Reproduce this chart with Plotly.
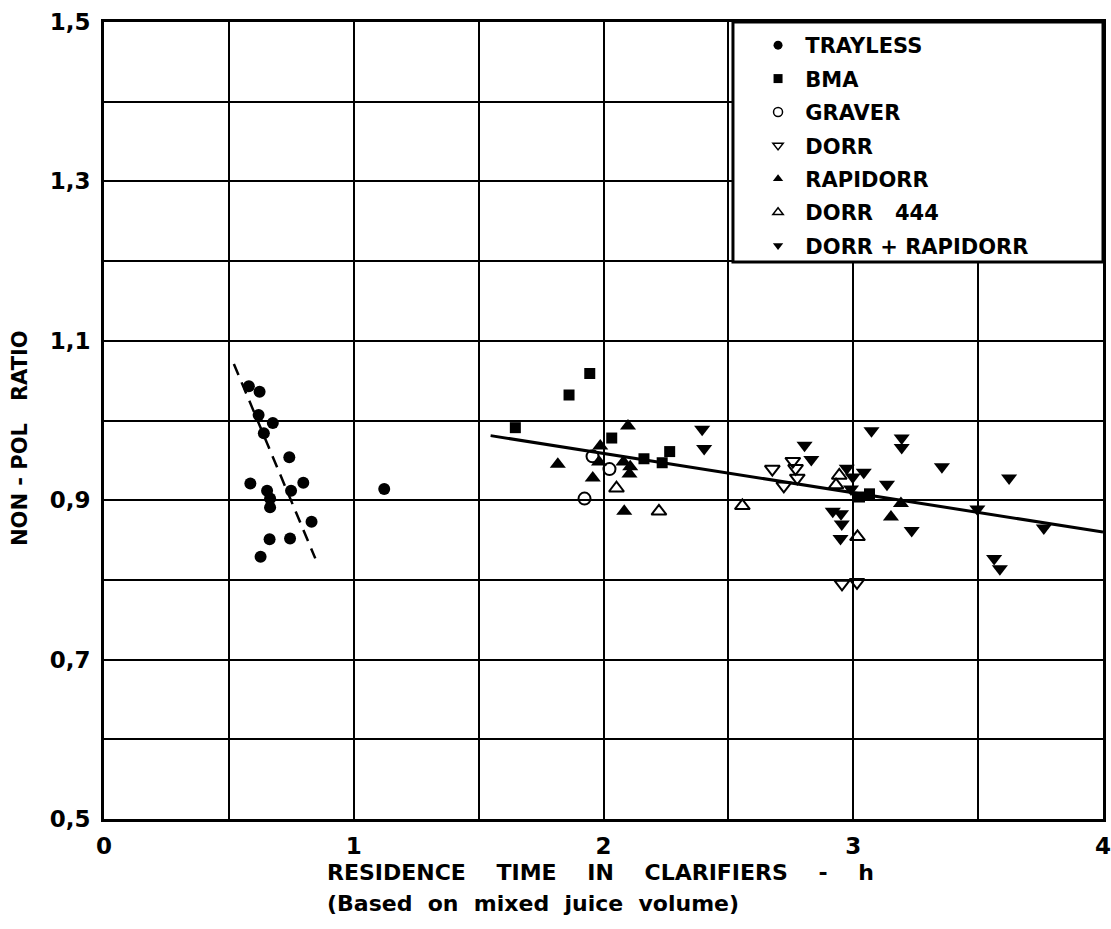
import plotly.graph_objects as go

# ---------------- data ----------------
trayless_x = [0.580, 0.623, 0.619, 0.676, 0.640, 0.742, 0.586, 0.798, 0.653, 0.749,
              0.665, 0.665, 0.831, 0.663, 0.745, 0.627, 1.122]
trayless_y = [1.043, 1.036, 1.007, 0.997, 0.984, 0.954, 0.921, 0.922, 0.912, 0.912,
              0.902, 0.891, 0.873, 0.851, 0.852, 0.829, 0.914]

bma_x = [1.945, 1.862, 1.647, 2.033, 2.265, 2.162, 2.235, 3.025, 3.065]
bma_y = [1.059, 1.032, 0.991, 0.978, 0.961, 0.952, 0.947, 0.904, 0.908]

graver_x = [1.956, 2.024, 1.924]
graver_y = [0.955, 0.939, 0.902]

dorr_x = [2.758, 2.769, 2.676, 2.776, 2.722, 2.955, 3.015]
dorr_y = [0.949, 0.940, 0.939, 0.928, 0.918, 0.795, 0.797]

rapidorr_x = [2.098, 1.987, 1.817, 1.982, 1.957, 2.080, 2.107, 2.104, 2.083, 3.151, 3.191]
rapidorr_y = [0.993, 0.968, 0.945, 0.948, 0.928, 0.948, 0.942, 0.933, 0.886, 0.879, 0.896]

dorr444_x = [2.052, 2.222, 2.944, 2.931, 2.556, 3.017]
dorr444_y = [0.915, 0.886, 0.931, 0.919, 0.893, 0.854]

dr_x = [2.395, 2.403, 3.073, 2.805, 2.832, 2.974, 2.998, 3.042, 3.135, 2.918, 2.951,
        2.954, 2.949, 2.991, 3.194, 3.194, 3.355, 3.624, 3.497, 3.234, 3.763, 3.564, 3.587]
dr_y = [0.989, 0.965, 0.987, 0.969, 0.951, 0.940, 0.929, 0.935, 0.920, 0.886, 0.883,
        0.870, 0.852, 0.914, 0.978, 0.966, 0.942, 0.928, 0.889, 0.862, 0.865, 0.827, 0.814]

# fitted lines
trayless_fit_x = [0.520, 0.846]
trayless_fit_y = [1.071, 0.827]
all_fit_x = [1.548, 4.0]
all_fit_y = [0.981, 0.860]

x_ticks = [0, 1, 2, 3, 4]
y_ticks = [0.5, 0.7, 0.9, 1.1, 1.3, 1.5]

FONT = "DejaVu Sans"
BLACK = "black"
NB = "\u00a0"

series = [
    ("TRAYLESS", trayless_x, trayless_y, "circle", 12),
    ("BMA", bma_x, bma_y, "square", 11),
    ("GRAVER", graver_x, graver_y, "circle-open", 12),
    ("DORR", dorr_x, dorr_y, "triangle-down-open", 13),
    ("RAPIDORR", rapidorr_x, rapidorr_y, "triangle-up", 14),
    ("DORR" + NB * 3 + "444", dorr444_x, dorr444_y, "triangle-up-open", 13),
    ("DORR + RAPIDORR", dr_x, dr_y, "triangle-down", 14),
]

fig = go.Figure()

fig.add_trace(go.Scatter(x=trayless_fit_x, y=trayless_fit_y, mode="lines",
                         line=dict(color=BLACK, width=2.5, dash="12px,8px"),
                         showlegend=False, hoverinfo="skip"))
fig.add_trace(go.Scatter(x=all_fit_x, y=all_fit_y, mode="lines",
                         line=dict(color=BLACK, width=3),
                         showlegend=False, hoverinfo="skip"))

for i, (name, xs, ys, sym, size) in enumerate(series):
    fig.add_trace(go.Scatter(
        x=xs, y=ys, mode="markers", name=name, showlegend=False,
        marker=dict(symbol=sym, size=size, color=BLACK,
                    line=dict(color=BLACK, width=2 if "open" in sym else 0)),
    ))
    # legend proxy with smaller marker
    fig.add_trace(go.Scatter(
        x=[None], y=[None], mode="markers", name=NB + name, legendgroup=f"g{i}",
        marker=dict(symbol=sym, size=9, color=BLACK,
                    line=dict(color=BLACK, width=1.5 if "open" in sym else 0)),
    ))

axis_common = dict(
    showline=True, linewidth=3, linecolor=BLACK, mirror=True,
    showgrid=True, gridcolor=BLACK, gridwidth=2,
    zeroline=False, ticks="", automargin=False, ticklabeloverflow="allow",
    tickfont=dict(family=FONT, size=23, color=BLACK, weight="bold"),
)

fig.update_xaxes(range=[0, 4], tickvals=x_ticks, ticktext=[str(v) for v in x_ticks],
                 minor=dict(dtick=0.5, showgrid=True, gridcolor=BLACK, gridwidth=2, ticks=""),
                 ticklabelstandoff=4, **axis_common)
fig.update_yaxes(range=[0.5, 1.5], tickvals=y_ticks, tickformat=".1f",
                 minor=dict(dtick=0.1, showgrid=True, gridcolor=BLACK, gridwidth=2, ticks=""),
                 ticklabelstandoff=6, **axis_common)

title_font = dict(family=FONT, size=22, color=BLACK, weight="bold")
fig.add_annotation(text=(NB * 4).join(["RESIDENCE", "TIME", "IN", "CLARIFIERS", "-", "h"]),
                   xref="paper", yref="paper", x=0.2212, y=-0.0677,
                   xanchor="left", yanchor="middle",
                   showarrow=False, font=title_font)
fig.add_annotation(text=(NB * 2).join(["(Based", "on", "mixed", "juice", "volume)"]),
                   xref="paper", yref="paper", x=0.2212, y=-0.1054,
                   xanchor="left", yanchor="middle",
                   showarrow=False, font=title_font)
fig.add_annotation(text="NON" + NB + "-" + NB + "POL" + NB * 3 + "RATIO",
                   xref="paper", yref="paper", x=-0.0841, y=0.478, textangle=-90,
                   xanchor="center", yanchor="middle",
                   showarrow=False, font=dict(family=FONT, size=21, color=BLACK, weight="bold"))

# legend frame
fig.add_shape(type="rect", xref="paper", yref="paper",
              x0=0.6296, x1=1.0, y0=0.6989, y1=1.0,
              fillcolor="white", line=dict(color=BLACK, width=3), layer="above")

fig.update_layout(
    width=1111, height=929,
    margin=dict(l=104, r=8, t=22, b=110),
    paper_bgcolor="white", plot_bgcolor="white",
    separators=",.",
    showlegend=True,
    legend=dict(
        x=0.6547, y=0.9962, xanchor="left", yanchor="top",
        bgcolor="rgba(0,0,0,0)", borderwidth=0,
        font=dict(family=FONT, size=21, color=BLACK, weight="bold"),
        tracegroupgap=3.1, traceorder="grouped",
        itemclick=False, itemdoubleclick=False,
    ),
)

fig.write_html("out.html")
